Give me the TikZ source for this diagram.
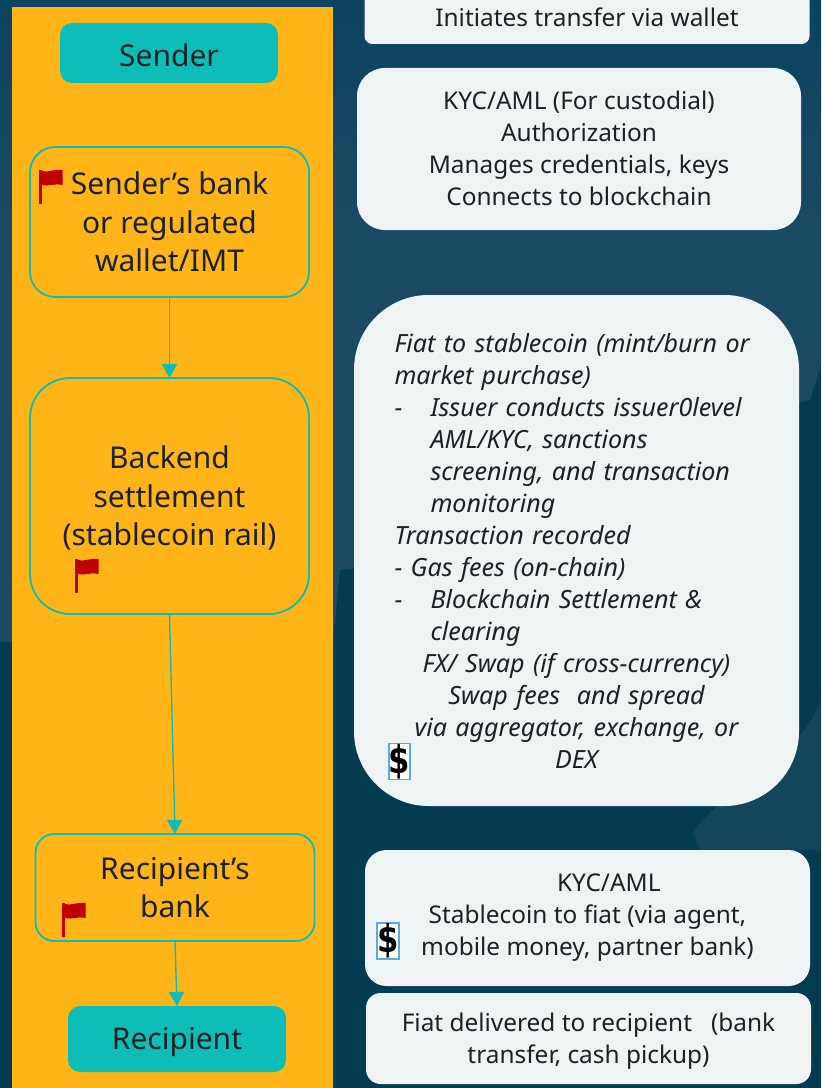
\documentclass[tikz,border=0pt]{standalone}
\usepackage{fontspec}
\setmainfont{Noto Sans}
\newfontfamily\dollarfont{DejaVu Sans}
\usetikzlibrary{arrows.meta}
\definecolor{bgtop}{HTML}{0B4360}
\definecolor{bgmid}{HTML}{1A4A62}
\definecolor{bglow}{HTML}{033B50}
\definecolor{blob}{HTML}{14465A}
\definecolor{amber}{HTML}{FFB517}
\definecolor{tealc}{HTML}{0EBDB7}
\definecolor{paper}{HTML}{EEF3F4}
\definecolor{ink}{HTML}{1C2126}
\definecolor{flagred}{HTML}{C00000}
\definecolor{iconblue}{HTML}{5BA9E0}
\newcommand{\bodytext}{\fontsize{18.3}{24}\selectfont}
\newcommand{\italtext}{\fontsize{18.8}{24}\selectfont\itshape}
\newcommand{\bigtext}{\fontsize{22.5}{29}\selectfont}
\newcommand{\dashline}[1]{\makebox[27pt][l]{-}#1}
\newcommand{\midline}[1]{\makebox[\linewidth]{#1}}
\newcommand{\lowered}[2]{\raisebox{-#1}[\height][\depth]{#2}}
\newcommand{\lifted}[2]{\raisebox{#1}[\height][\depth]{#2}}
\newcommand{\flagat}[2]{%
  \fill[flagred] (#1,#2) rectangle ++(2.7,34);
  \fill[flagred] (#1+3,#2+1) .. controls (#1+8,#2+3) and (#1+14,#2-1) .. (#1+23.5,#2)
    -- (#1+23.5,#2+15) .. controls (#1+15,#2+13) and (#1+9,#2+17) .. (#1+3,#2+15) -- cycle;
}
\tikzset{
  every node/.style={text=ink,inner sep=0pt,outer sep=0pt},
  endbox/.style={fill=tealc,rounded corners=9pt,minimum width=218*0.75pt,align=center,font=\bigtext},
  stepbox/.style={draw=tealc,line width=1.4pt,minimum width=279*0.75pt,align=center,font=\bigtext},
  notebox/.style={fill=paper,minimum width=445*0.75pt,align=center,font=\bodytext},
  conn/.style={draw=tealc,line width=1.05pt,-{Triangle[length=10.5pt,width=11.5pt,fill=tealc]}},
  iconbox/.style={draw=iconblue,fill=white,line width=1.4pt,minimum width=15pt,minimum height=27pt,font=\dollarfont\bfseries\fontsize{25}{25}\selectfont,text=black},
}
\begin{document}
\begin{tikzpicture}[x=0.75pt,y=-0.75pt]
\useasboundingbox (0,0) rectangle (821,1088);
% background
\fill[bglow] (0,0) rectangle (821,1088);
\shade[top color=bgtop,bottom color=bgmid] (0,0) rectangle (821,230);
\fill[bgmid] (0,230) -- (0,642) -- (333,642) -- (340,570) -- (368,567) -- (368,510) -- (810,400) -- (821,365) -- (821,230) -- cycle;
\fill[blob] (821,700) .. controls (800,760) and (720,790) .. (693,833) -- (700,850) -- (821,850) -- cycle;
% lane
\fill[amber] (12,7) rectangle (333,1088);
% left column
\node[endbox,minimum height=60*0.75pt] (sender) at (169,53) {\lowered{1.5pt}{Sender}};
\node[stepbox,rounded corners=19pt,minimum height=150*0.75pt] (sbank) at (169.5,222) {Sender’s bank\\or regulated\\wallet/IMT};
\node[stepbox,rounded corners=30pt,minimum height=236*0.75pt] (backend) at (169.5,496) {\lowered{1.5pt}{Backend}\\\lowered{1.5pt}{settlement}\\\lowered{1.5pt}{(stablecoin rail)}};
\node[stepbox,rounded corners=14pt,minimum height=107*0.75pt] (rbank) at (175,887.5) {Recipient’s\\bank};
\node[endbox,minimum height=66*0.75pt] (recipient) at (177,1039) {\lowered{2.25pt}{Recipient}};
\draw[conn] (sbank.south) -- (backend.north);
\draw[conn] (backend.south) -- (rbank.north);
\draw[conn] (rbank.south) -- (recipient.north);
\flagat{39}{170}
\flagat{75}{559}
\flagat{62}{903}
% right column
\node[notebox,rounded corners=6pt,minimum height=64*0.75pt] (n1) at (587,12) {\lowered{3.75pt}{Initiates transfer via wallet}};
\node[notebox,rounded corners=21pt,minimum height=162*0.75pt,minimum width=444*0.75pt] (n2) at (579,149) {\lifted{0.75pt}{KYC/AML (For custodial)}\\\lifted{0.75pt}{Authorization}\\\lifted{0.75pt}{Manages credentials, keys}\\\lifted{0.75pt}{Connects to blockchain}};
\node[notebox,rounded corners=56pt,minimum height=511*0.75pt,text width=364*0.75pt,align=left,font=\italtext] (n3) at (576.5,550.5) {%
Fiat to stablecoin (mint/burn or\\
market purchase)\\
\dashline{Issuer conducts issuer0level}\\
\hspace*{27pt}AML/KYC, sanctions\\
\hspace*{27pt}screening, and transaction\\
\hspace*{27pt}monitoring\\
Transaction recorded\\
- Gas fees (on-chain)\\
\dashline{Blockchain Settlement \&}\\
\hspace*{27pt}clearing\\
\midline{FX/ Swap (if cross-currency)}\\
\midline{Swap fees\ \ and spread}\\
\midline{via aggregator, exchange, or}\\
\midline{DEX}};
\node[iconbox] (d1) at (399.5,761.5) {\scalebox{0.92}[1.15]{\$}};
\node[notebox,rounded corners=16pt,minimum height=136*0.75pt] (n4) at (587.5,918) {\hspace*{32pt}KYC/AML\\Stablecoin to fiat (via agent,\\mobile money, partner bank)};
\node[iconbox] (d2) at (388,941) {\scalebox{0.92}[1.15]{\$}};
\node[notebox,rounded corners=11pt,minimum height=91*0.75pt] (n5) at (588.5,1038.5) {\lowered{2.25pt}{Fiat delivered to recipient\ \ \ (bank}\\\lowered{2.25pt}{transfer, cash pickup)}};
\end{tikzpicture}
\end{document}
